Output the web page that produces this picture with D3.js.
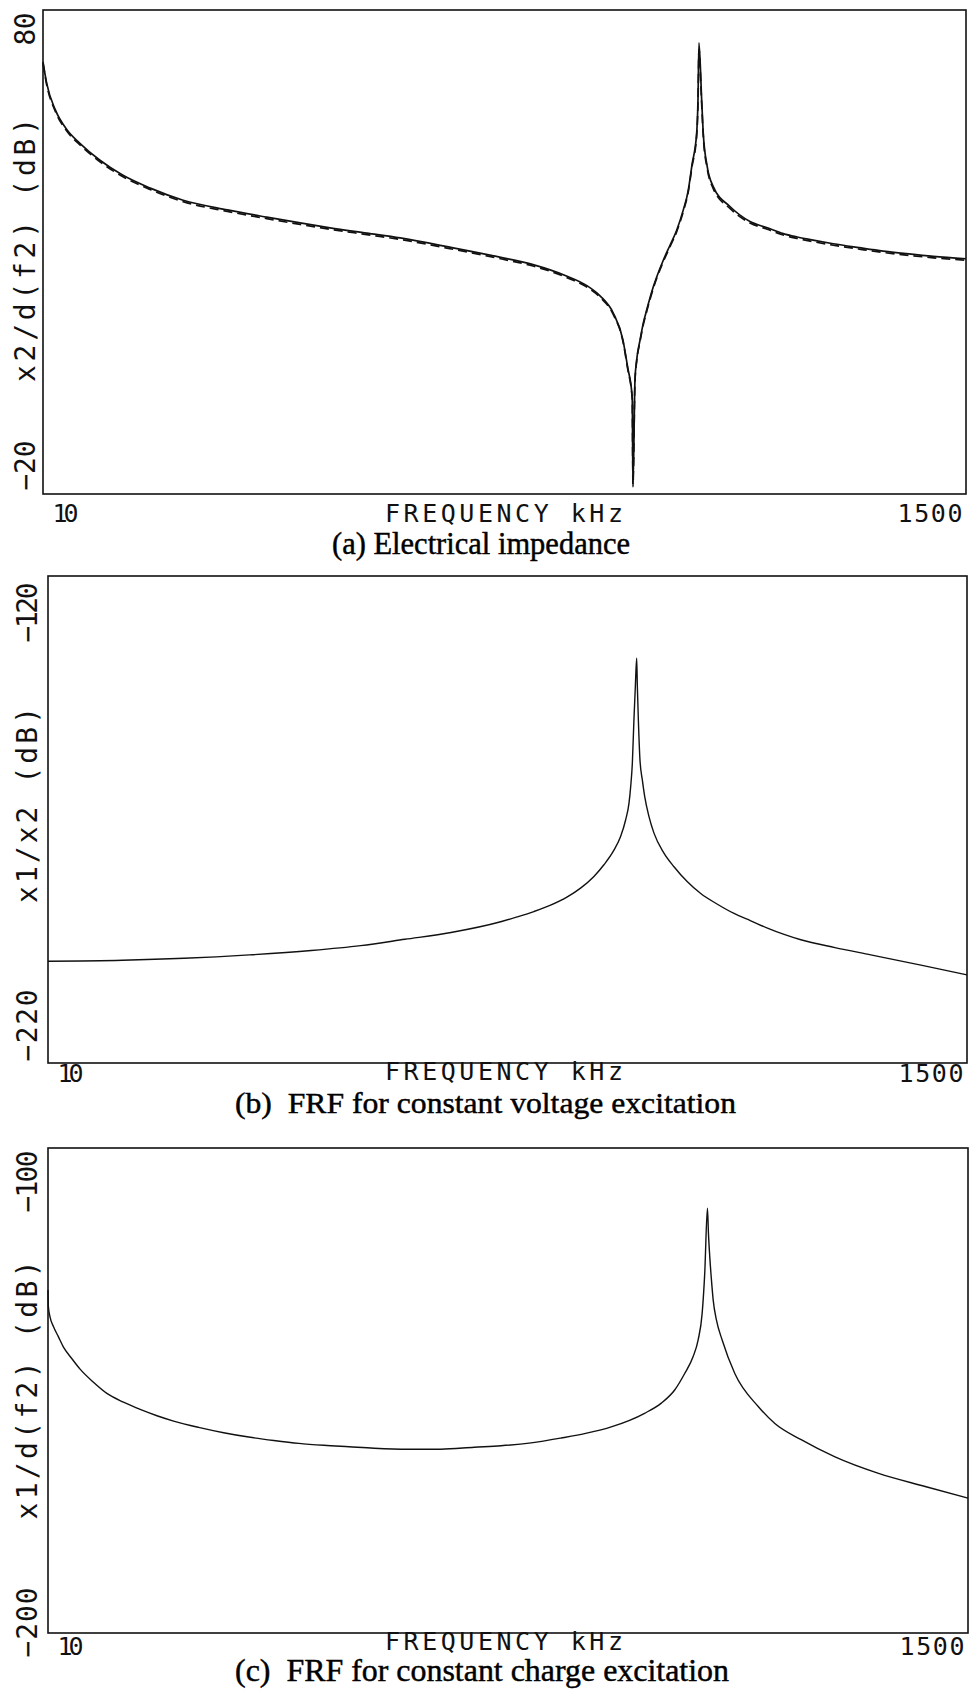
<!DOCTYPE html>
<html>
<head>
<meta charset="utf-8">
<script src="https://cdn.jsdelivr.net/npm/d3@7"></script>
<style>
  html, body { margin: 0; padding: 0; background: #fff; }
  svg { display: block; }
  text { white-space: pre; }
</style>
</head>
<body>
<svg id="chart" width="976" height="1690"></svg>
<script>
// ---- Data: frequency in kHz, response in dB ----

// (a) electrical impedance x2/d(f2): measured (solid) and model (dashed)
const freqA = [10, 10.2, 10.7, 11.4, 12.2, 13.6, 15.4, 17.9, 21.4, 27.2, 33.7, 40.4, 47.5, 58, 69.5, 91, 120, 143, 172, 192, 206, 221, 233, 239, 245, 246, 248.7, 251, 255.6, 260.2, 265, 274.7, 290, 300.8, 311.9, 323.3, 332.2, 338.9, 347.6, 350.1, 352, 357.2, 360.3, 368.2, 380.4, 416.5, 464.3, 510, 556.4, 600, 640, 729.7, 840, 957, 1100, 1256, 1500];
const impedanceMeasured = [69.3, 64.9, 59.3, 55.2, 52.5, 49.0, 45.9, 43.2, 40.7, 38.7, 37.2, 36.0, 35.0, 33.9, 32.9, 31.0, 28.9, 27.4, 25.0, 23.0, 20.9, 17.4, 11.8, 6.2, 0.0, -18.6, 3.6, 7.7, 11.8, 15.3, 18.0, 22.8, 28.3, 31.4, 34.5, 38.7, 42.8, 48.0, 54.5, 61.4, 73.2, 61.4, 54.5, 47.6, 43.5, 39.4, 36.3, 35.0, 33.8, 33.1, 32.6, 31.7, 30.9, 30.2, 29.6, 29.1, 28.6];
const impedanceModel = [69.0, 64.6, 59.0, 54.9, 52.2, 48.7, 45.6, 42.9, 40.4, 38.4, 36.9, 35.7, 34.7, 33.6, 32.6, 30.7, 28.6, 27.1, 24.7, 22.7, 20.6, 17.1, 11.5, 5.9, -0.3, -18.0, 3.3, 7.4, 11.5, 15.0, 17.7, 22.5, 28.0, 31.1, 34.2, 38.4, 42.5, 47.6, 54.0, 60.6, 71.8, 60.6, 54.0, 47.2, 43.1, 39.0, 36.0, 34.7, 33.5, 32.8, 32.3, 31.4, 30.6, 29.9, 29.3, 28.8, 28.3];

// (b) x1/x2 FRF, constant voltage excitation
const freqB = [10, 15, 21, 30, 42, 55, 70, 90, 118, 129.1, 141.4, 154.9, 169.7, 182.4, 196.2, 207.2, 218.8, 226.9, 233.2, 237.5, 239.7, 241.9, 244.0, 245.9, 247.7, 248.6, 250.0, 252.2, 255.5, 258.8, 264.9, 272.2, 287.4, 303.6, 326.6, 351.2, 384.7, 421.2, 461.4, 505.4, 553.3, 606.2, 730, 888, 1167, 1500];
const frfVoltage = [-199.1, -198.9, -198.5, -197.8, -196.9, -195.9, -194.6, -193.2, -191.0, -190.0, -188.9, -187.6, -185.9, -184.1, -181.7, -179.3, -176.3, -173.5, -170.1, -166.7, -163.3, -158.5, -149.6, -142.7, -136.9, -142.7, -149.6, -157.8, -161.9, -165.3, -169.4, -172.8, -176.9, -179.7, -182.8, -185.2, -187.4, -189.3, -190.8, -192.3, -193.6, -194.7, -196.3, -197.8, -199.9, -201.9];

// (c) x1/d(f2) FRF, constant charge excitation
const freqC = [10, 10.02, 10.11, 10.30, 10.58, 10.87, 11.38, 11.91, 12.81, 13.78, 15.08, 16.52, 18.10, 19.82, 22.71, 26.03, 29.84, 34.20, 39.21, 44.94, 51.51, 59.04, 70.84, 84.96, 101.9, 117.9, 138.9, 163.6, 188, 214.9, 257.7, 282.3, 303.6, 320.6, 335.7, 344.9, 352.6, 357.6, 362.9, 364.9, 367.5, 370.9, 374.4, 381.2, 393.2, 421.2, 478.5, 523.9, 606.2, 727, 921.4, 1188, 1500];
const frfCharge = [-129.3, -132.7, -134.8, -136.8, -138.9, -141.0, -143.4, -145.6, -148.3, -150.6, -152.4, -153.9, -155.2, -156.3, -157.6, -158.7, -159.6, -160.3, -160.9, -161.3, -161.6, -161.9, -162.1, -162.1, -161.7, -161.4, -160.8, -159.8, -158.8, -157.5, -154.7, -152.6, -149.9, -146.5, -143.0, -139.6, -134.1, -125.8, -112.4, -117.6, -122.4, -127.2, -131.3, -135.5, -139.6, -146.5, -153.3, -156.8, -160.2, -163.7, -167.1, -169.8, -172.2];

// Axis ranges and labels
const freqRange = [10, 1500];
const xTickValues = [10, 1500];
const xTitle = "FREQUENCY kHz";
const yRangeA = [-20, 80];
const yRangeB = [-220, -120];
const yRangeC = [-200, -100];
const yTitles = ["x2/d(f2) (dB)", "x1/x2 (dB)", "x1/d(f2) (dB)"];
const captions = ["(a) Electrical impedance", "(b)  FRF for constant voltage excitation", "(c)  FRF for constant charge excitation"];

// ---- Layout (pixel geometry of each panel) ----
const layout = [
  { x0: 43, x1: 966, y0: 10, y1: 494,
    xLabelY: 522, xTitleY: 522, capY: 554, capX: [332, 630], capSize: 31,
    tickLen: [50, 33], tickOff: [4, 2], titleC: 250, titleLen: 264, labelX: 35 },
  { x0: 48, x1: 967, y0: 576, y1: 1063,
    xLabelY: 1082, xTitleY: 1080, capY: 1113, capX: [235, 736], capSize: 30,
    tickLen: [72, 60], tickOff: [2, 6], titleC: 805, titleLen: 196, labelX: 37 },
  { x0: 48, x1: 968, y0: 1148, y1: 1633,
    xLabelY: 1655, xTitleY: 1650, capY: 1681, capX: [235, 729], capSize: 31,
    tickLen: [70, 62], tickOff: [-24, 2], titleC: 1390, titleLen: 259, labelX: 37 }
];

const panels = [
  { yr: yRangeA, series: [
      { f: freqA, v: impedanceMeasured, dash: null, w: 1.7 },
      { f: freqA, v: impedanceModel, dash: "9,5", w: 1.7 } ] },
  { yr: yRangeB, series: [ { f: freqB, v: frfVoltage, dash: null, w: 1.4 } ] },
  { yr: yRangeC, series: [ { f: freqC, v: frfCharge, dash: null, w: 1.4 } ] }
];

const plotFont = "'DejaVu Sans Mono', 'Liberation Mono', monospace";
const capFont = "'Liberation Serif', 'Times New Roman', serif";
const ink = "#111";

const svg = d3.select("#chart");

panels.forEach((p, i) => {
  const L = layout[i];
  const g = svg.append("g");

  const x = d3.scaleLog().domain(freqRange).range([L.x0, L.x1]);
  const y = d3.scaleLinear().domain(p.yr).range([L.y1, L.y0]);

  // plot frame
  g.append("rect")
    .attr("x", L.x0).attr("y", L.y0)
    .attr("width", L.x1 - L.x0).attr("height", L.y1 - L.y0)
    .attr("fill", "none").attr("stroke", ink).attr("stroke-width", 1.6);

  // response curves
  const line = d3.line()
    .x(d => x(d[0])).y(d => y(d[1]))
    .curve(d3.curveMonotoneX);
  p.series.forEach(s => {
    g.append("path")
      .datum(d3.zip(s.f, s.v))
      .attr("d", line)
      .attr("fill", "none")
      .attr("stroke", ink)
      .attr("stroke-width", s.w)
      .attr("stroke-linejoin", "round")
      .attr("stroke-dasharray", s.dash);
  });

  // x axis: end labels only
  const xAxis = g.append("g")
    .attr("transform", `translate(0,${L.y1})`)
    .call(d3.axisBottom(x).tickValues(xTickValues).tickSize(0).tickFormat(d3.format("d")));
  xAxis.select(".domain").remove();
  xAxis.selectAll(".tick text")
    .attr("font-family", plotFont)
    .attr("font-size", 25)
    .attr("fill", ink)
    .attr("dy", null)
    .attr("y", L.xLabelY - L.y1)
    .attr("text-anchor", (d, k) => k === 0 ? "start" : "end")
    .attr("x", (d, k) => k === 0 ? 9 : -4)
    .attr("textLength", (d, k) => k === 0 ? 26 : 65)
    .attr("lengthAdjust", "spacing");

  g.append("text")
    .attr("x", 385).attr("y", L.xTitleY)
    .attr("font-family", plotFont).attr("font-size", 25).attr("fill", ink)
    .attr("textLength", 238).attr("lengthAdjust", "spacing")
    .text(xTitle);

  // y axis: end labels only, rotated
  const yAxis = g.append("g")
    .attr("transform", `translate(${L.x0},0)`)
    .call(d3.axisLeft(y).tickValues(p.yr).tickSize(0).tickFormat(d3.format("d")));
  yAxis.select(".domain").remove();
  yAxis.selectAll(".tick text")
    .attr("font-family", plotFont)
    .attr("font-size", 28)
    .attr("fill", ink)
    .attr("dy", null)
    .attr("transform", "rotate(-90)")
    .attr("y", L.labelX - L.x0)
    .attr("text-anchor", (d, k) => k === 0 ? "start" : "end")
    .attr("x", (d, k) => k === 0 ? L.tickOff[0] : -L.tickOff[1])
    .attr("textLength", (d, k) => L.tickLen[k])
    .attr("lengthAdjust", "spacing");

  g.append("text")
    .attr("transform", `translate(${L.labelX},${L.titleC}) rotate(-90)`)
    .attr("text-anchor", "middle")
    .attr("font-family", plotFont).attr("font-size", 28).attr("fill", ink)
    .attr("textLength", L.titleLen).attr("lengthAdjust", "spacing")
    .text(yTitles[i]);

  // caption
  g.append("text")
    .attr("x", L.capX[0]).attr("y", L.capY)
    .attr("font-family", capFont).attr("font-size", L.capSize)
    .attr("fill", "#000").attr("stroke", "#000").attr("stroke-width", 0.45)
    .attr("textLength", L.capX[1] - L.capX[0]).attr("lengthAdjust", "spacingAndGlyphs")
    .text(captions[i]);
});
</script>
</body>
</html>
